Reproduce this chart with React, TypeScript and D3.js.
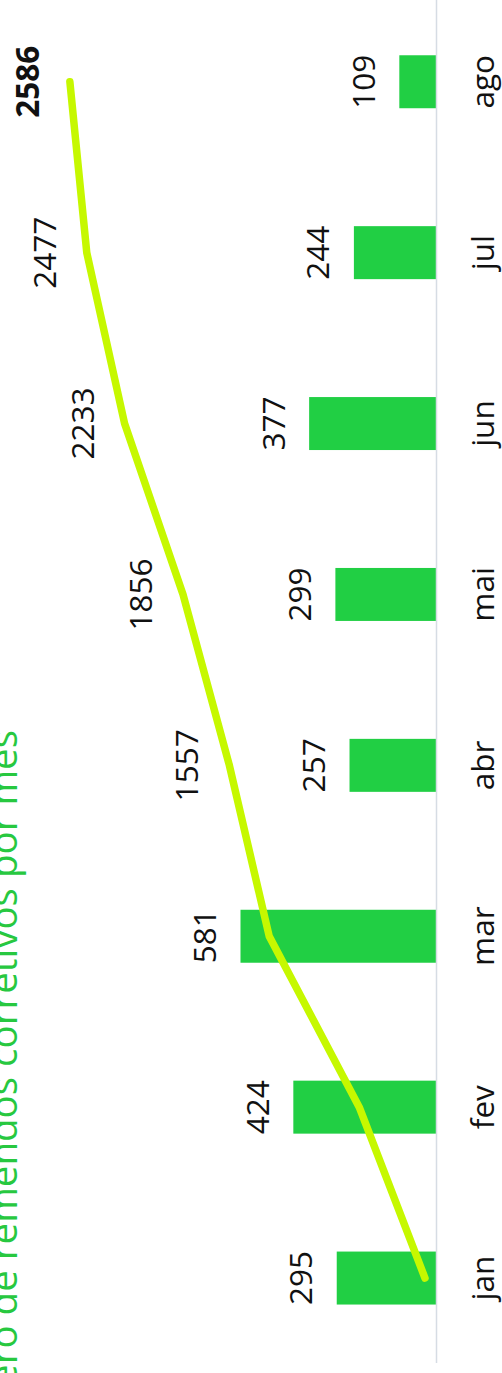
import React from "react";
import * as d3 from "d3";

const months = ["jan", "fev", "mar", "abr", "mai", "jun", "jul", "ago"];
const monthly = [295, 424, 581, 257, 299, 377, 244, 109];
const cumulative = [295, 719, 1300, 1557, 1856, 2233, 2477, 2586];
const showLineLabel = [false, false, false, true, true, true, true, true];
const title = "Número de remendos corretivos por mês";

const W = 1373; // unrotated width
const FONT = "'Open Sans', 'DejaVu Sans', sans-serif";

export default function App() {
  const x = d3.scaleBand<string>().domain(months).range([9.5, 1376.7]).paddingInner(0.69).paddingOuter(0.345);
  const yBar = d3.scaleLinear().domain([0, 1300]).range([436, 436 - 1300 * 0.3365]);
  const yLine = d3.scaleLinear().domain([0, 3000]).range([470.7, 470.7 - 3000 * 0.155]);
  const cx = (m: string) => (x(m) as number) + x.bandwidth() / 2;
  const line = d3
    .line<number>()
    .x((_, i) => cx(months[i]))
    .y((d) => yLine(d))
    .curve(d3.curveLinear);

  return (
    <svg
      width={502}
      height={1373}
      style={{ position: "absolute", left: 0, top: 0, background: "#fff" }}
    >
      <g transform={`translate(0,${W}) rotate(-90)`}>
        <text
          x={643}
          y={17}
          textAnchor="end"
          fontFamily={FONT}
          fontSize={38.5}
          fill="#27c840"
        >
          {title}
        </text>
        {months.map((m, i) => (
          <rect
            key={m}
            x={x(m)}
            y={yBar(monthly[i])}
            width={x.bandwidth()}
            height={yBar(0) - yBar(monthly[i])}
            fill="#21cf44"
          />
        ))}
        <line x1={10} x2={W} y1={436.5} y2={436.5} stroke="#d6dce4" strokeWidth={1.5} />
        <path
          d={line(cumulative) || ""}
          fill="none"
          stroke="#c6f800"
          strokeWidth={7.5}
          strokeLinecap="round"
          strokeLinejoin="round"
        />
        {months.map((m, i) => (
          <text
            key={"b" + m}
            x={cx(m)}
            y={yBar(monthly[i]) - 24.5}
            textAnchor="middle"
            fontFamily={FONT}
            fontSize={31.5}
            fill="#111"
          >
            {monthly[i]}
          </text>
        ))}
        {months.map((m, i) =>
          showLineLabel[i] ? (
            <text
              key={"l" + m}
              x={cx(m)}
              y={yLine(cumulative[i]) - 31}
              textAnchor="middle"
              fontFamily={FONT}
              fontSize={31.5}
              fontWeight={i === months.length - 1 ? "bold" : "normal"}
              fill="#111"
            >
              {cumulative[i]}
            </text>
          ) : null
        )}
        {months.map((m) => (
          <text
            key={"m" + m}
            x={cx(m)}
            y={494}
            textAnchor="middle"
            fontFamily={FONT}
            fontSize={31.5}
            fill="#111"
          >
            {m}
          </text>
        ))}
      </g>
    </svg>
  );
}
